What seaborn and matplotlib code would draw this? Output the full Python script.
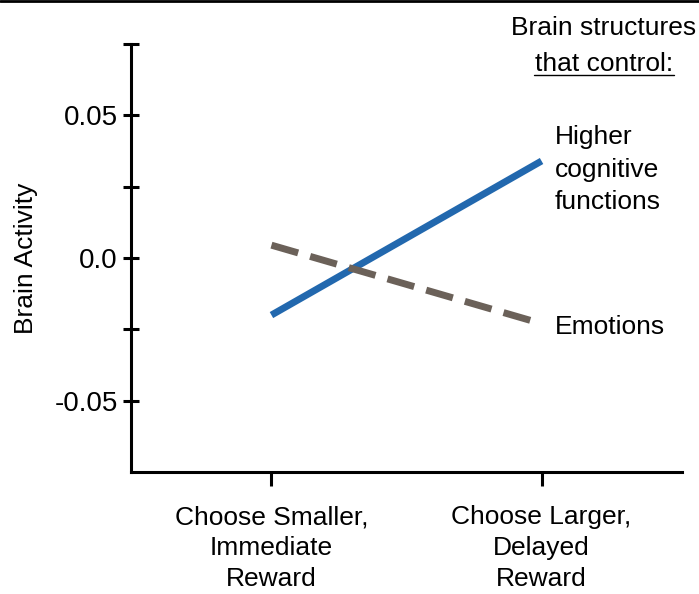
import numpy as np
import pandas as pd
import matplotlib.pyplot as plt
import matplotlib.lines as mlines
import seaborn as sns

# conditions on the x axis
conditions = ["Choose Smaller,\nImmediate\nReward", "Choose Larger,\nDelayed\nReward"]
# brain activity per condition
higher_cognitive = [-0.020, 0.034]
emotions = [0.0045, -0.023]

ytick_values = [-0.05, -0.025, 0.0, 0.025, 0.05, 0.075]
ytick_labels = ["-0.05", "", "0.0", "", "0.05", ""]

series_names = ["Higher\ncognitive\nfunctions", "Emotions"]

df = pd.DataFrame({
    "pos": list(range(len(conditions))) * 2,
    "value": higher_cognitive + emotions,
    "structure": [series_names[0]] * len(conditions) + [series_names[1]] * len(conditions),
})

sns.set_style("white")
plt.rcParams["font.family"] = ["Liberation Sans", "DejaVu Sans"]
plt.rcParams["text.color"] = "black"
plt.rcParams["axes.labelcolor"] = "black"

FS = 19

fig = plt.figure(figsize=(6.99, 5.94), dpi=100)
ax = fig.add_axes([0.1874, 0.2054, 0.7883, 0.7205])

palette = {series_names[0]: "#2268ae", series_names[1]: "#6b6159"}
dashes = {series_names[0]: "", series_names[1]: (4, 1.8)}
sns.lineplot(data=df, x="pos", y="value", hue="structure", style="structure",
             palette=palette, dashes=dashes, linewidth=5, legend=False, ax=ax)
for ln in ax.get_lines():
    ln.set_solid_capstyle("butt")
    ln.set_dash_capstyle("butt")

ax.set_xlim(-0.52, 1.52)
ax.set_ylim(-0.075, 0.075)
ax.set_xticks(range(len(conditions)))
ax.set_xticklabels(conditions, fontsize=FS, linespacing=1.36)
ax.set_yticks(ytick_values)
ax.set_yticklabels(ytick_labels, fontsize=FS + 1)
ax.set_xlabel("")
ax.set_ylabel("Brain Activity", fontsize=FS, labelpad=12)

sns.despine(ax=ax)
for side in ["left", "bottom"]:
    ax.spines[side].set_linewidth(2.2)
    ax.spines[side].set_color("black")
ax.tick_params(axis="x", bottom=True, direction="out", length=10, width=2.2, pad=14,
               colors="black")
ax.tick_params(axis="y", left=True, direction="inout", length=11, width=2.2, pad=4,
               colors="black")

# labels at the line ends
ax.text(1.05, higher_cognitive[1] - 0.003, series_names[0], fontsize=FS,
        va="center", ha="left", linespacing=1.45)
ax.text(1.05, emotions[1] - 0.0012, series_names[1], fontsize=FS, va="center", ha="left")

fig.text(0.864, 0.953, "Brain structures", fontsize=FS, ha="center", va="center")
fig.text(0.864, 0.893, "that control:", fontsize=FS, ha="center", va="center")
fig.add_artist(mlines.Line2D([0.764, 0.964], [0.873, 0.873], color="black", linewidth=1))

# frame line at the top
fig.add_artist(mlines.Line2D([0, 1], [0.998, 0.998], color="black", linewidth=2))

fig.savefig("out.png", dpi=100)
